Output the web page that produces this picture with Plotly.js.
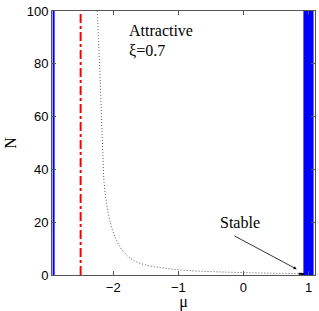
<!DOCTYPE html>
<html><head><meta charset="utf-8">
<script src="https://cdn.plot.ly/plotly-3.0.1.min.js"></script>
<style>html,body{margin:0;padding:0;background:#fff}#c{width:319px;height:311px}</style>
</head><body><div id="c"></div>
<script>
const curveMu = [-2.245, -2.22, -2.20, -2.18, -2.16, -2.14, -2.10, -2.04, -1.96, -1.86, -1.70, -1.50, -1.19, -0.79, -0.4, 0, 0.4, 0.85];
const curveN  = [100, 86, 74, 60, 47, 35, 27, 19.5, 13.8, 9.4, 5.7, 3.8, 2.5, 1.6, 1.2, 0.9, 0.7, 0.5];
const stableMu = [0.85, 0.93];
const stableN = [0.5, 0.4];
const leftLineMu = -2.915;
const redLineMu = -2.5;
const bandMu = [0.93, 1.07];
const xTicks = [-2, -1, 0, 1];
const yTicks = [0, 20, 40, 60, 80, 100];
const xRange = [-2.94, 1.1];
const yRange = [0, 100];

const serif = 'Liberation Serif, Times New Roman, serif';
const traces = [
  {x:[bandMu[0],bandMu[1],bandMu[1],bandMu[0],bandMu[0]], y:[yRange[0],yRange[0],yRange[1],yRange[1],yRange[0]],
   mode:'lines', fill:'toself', fillcolor:'#0000ff', line:{color:'#0000ff', width:1}},
  {x:[leftLineMu,leftLineMu], y:yRange, mode:'lines', line:{color:'#0000ff', width:2}},
  {x:[redLineMu,redLineMu], y:yRange, mode:'lines', line:{color:'#ff0000', width:2, dash:'dashdot'}},
  {x:curveMu, y:curveN, mode:'lines', line:{color:'#555555', width:1, dash:'1px,2px', shape:'spline'}},
  {x:stableMu, y:stableN, mode:'lines', line:{color:'#000000', width:2}}
];

const layout = {
  width:319, height:311,
  margin:{l:52, r:4, t:11, b:36},
  paper_bgcolor:'#fff', plot_bgcolor:'#fff',
  showlegend:false,
  xaxis:{range:xRange, tickvals:xTicks, ticktext:['\u22122','\u22121','0','1'], ticks:'inside', ticklen:4, tickcolor:'#555',
    showline:true, linecolor:'#555', linewidth:1, mirror:'ticks', showgrid:false, zeroline:false,
    tickfont:{family:'Liberation Sans, Arial', size:13, color:'#000'},
    title:{text:'\u03bc', font:{family:serif, size:16, color:'#000'}, standoff:0}},
  yaxis:{range:yRange, tickvals:yTicks, ticks:'inside', ticklen:4, tickcolor:'#555',
    showline:true, linecolor:'#555', linewidth:1, mirror:'ticks', showgrid:false, zeroline:false,
    tickfont:{family:'Liberation Sans, Arial', size:13, color:'#000'},
    title:{text:'N', font:{family:serif, size:16, color:'#000'}, standoff:6}},
  annotations:[
    {x:-1.79, y:92.8, xref:'x', yref:'y', text:'Attractive', showarrow:false, xanchor:'left',
     font:{family:serif, size:16, color:'#000'}},
    {x:-1.79, y:85, xref:'x', yref:'y', text:'\u03be=0.7', showarrow:false, xanchor:'left',
     font:{family:serif, size:16, color:'#000'}},
    {x:-0.05, y:19.7, xref:'x', yref:'y', text:'Stable', showarrow:false,
     font:{family:serif, size:16, color:'#000'}},
    {x:0.82, y:2.2, xref:'x', yref:'y', ax:-0.16, ay:15.1, axref:'x', ayref:'y', text:'',
     showarrow:true, arrowhead:2, arrowsize:0.8, arrowwidth:0.8, arrowcolor:'#000', standoff:0}
  ]
};
Plotly.newPlot('c', traces, layout, {displayModeBar:false, staticPlot:true});
</script></body></html>
